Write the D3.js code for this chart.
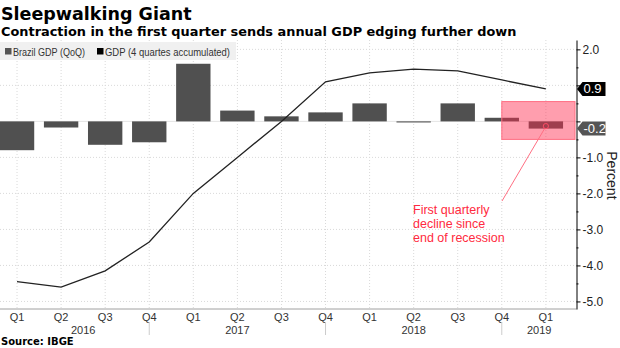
<!DOCTYPE html>
<html>
<head>
<meta charset="utf-8">
<script src="https://d3js.org/d3.v7.min.js"></script>
<style>
  html, body { margin: 0; padding: 0; background: #fff; }
  svg { display: block; font-family: "Liberation Sans", Arial, sans-serif; }
  .heading { font-family: "DejaVu Sans", Verdana, sans-serif; font-weight: bold; fill: #000; }
</style>
</head>
<body>
<div id="chart"></div>
<script>
  // quarterly figures, Q1 2016 .. Q1 2019
  const periods = ["2016 Q1", "2016 Q2", "2016 Q3", "2016 Q4",
                   "2017 Q1", "2017 Q2", "2017 Q3", "2017 Q4",
                   "2018 Q1", "2018 Q2", "2018 Q3", "2018 Q4",
                   "2019 Q1"];
  const quarterLabels = ["Q1", "Q2", "Q3", "Q4", "Q1", "Q2", "Q3", "Q4", "Q1", "Q2", "Q3", "Q4", "Q1"];
  const years = ["2016", "2017", "2018", "2019"];

  const qoq = [-0.8, -0.17, -0.65, -0.58, 1.6, 0.3, 0.14, 0.25, 0.5, -0.03, 0.5, 0.1, -0.2];
  const accumulated = [-4.45, -4.6, -4.15, -3.35, -2.0, -1.0, 0.0, 1.1, 1.35, 1.45, 1.4, 1.15, 0.9];

  const yTicks = [2, 1, 0, -1, -2, -3, -4, -5];
  const yMinorTicks = [1.5, 0.5, -0.5, -1.5, -2.5, -3.5, -4.5];

  // shaded box around the latest quarters
  const highlightFrom = "2018 Q4";
  const highlightRange = [-0.5, 0.55];
  const noteLines = ["First quarterly", "decline since", "end of recession"];

  const width = 620;
  const height = 348;
  const plotLeft = 0, plotRight = 576.5, plotTop = 40, plotBottom = 309;

  const svg = d3.select("#chart").append("svg")
      .attr("width", width)
      .attr("height", height);

  const x = d3.scaleBand()
      .domain(periods)
      .range([-5, 567.9])
      .paddingInner(0.22)
      .paddingOuter(0.11);
  const cx = p => x(p) + x.bandwidth() / 2;

  const y = d3.scaleLinear()
      .domain([-5.21, 2.26])
      .range([plotBottom, plotTop]);

  // titles
  svg.append("text")
      .attr("class", "heading")
      .attr("x", 1).attr("y", 20)
      .style("font-size", "17.5px")
      .text("Sleepwalking Giant");
  svg.append("text")
      .attr("class", "heading")
      .attr("x", 1).attr("y", 36)
      .style("font-size", "12.9px")
      .text("Contraction in the first quarter sends annual GDP edging further down");

  // grid
  const grid = svg.append("g");
  grid.selectAll(".vgrid")
      .data(periods)
      .enter().append("line")
      .attr("x1", d => cx(d)).attr("x2", d => cx(d))
      .attr("y1", plotTop).attr("y2", plotBottom)
      .attr("stroke", "#d9d9d9").attr("stroke-dasharray", "1,2");
  grid.selectAll(".hgrid")
      .data(yTicks.filter(d => d !== 0))
      .enter().append("line")
      .attr("x1", plotLeft).attr("x2", plotRight)
      .attr("y1", d => y(d)).attr("y2", d => y(d))
      .attr("stroke", "#d9d9d9").attr("stroke-dasharray", "1,2");
  grid.append("line")
      .attr("x1", plotLeft).attr("x2", plotRight)
      .attr("y1", y(0)).attr("y2", y(0))
      .attr("stroke", "#e4e4e4");

  // legend
  const legend = svg.append("g");
  legend.append("rect")
      .attr("x", 0).attr("y", 42).attr("width", 236).attr("height", 18)
      .attr("fill", "#f0f0f0");
  const legendItems = [
    { label: "Brazil GDP (QoQ)", color: "#555", x: 5, w: 72 },
    { label: "GDP (4 quartes accumulated)", color: "#000", x: 97, w: 125 }
  ];
  legendItems.forEach(item => {
    legend.append("rect")
        .attr("x", item.x).attr("y", 48).attr("width", 6.5).attr("height", 6.5)
        .attr("fill", item.color);
    legend.append("text")
        .attr("x", item.x + 8).attr("y", 55.5)
        .attr("textLength", item.w)
        .attr("lengthAdjust", "spacingAndGlyphs")
        .style("font-size", "11.5px").style("fill", "#333")
        .text(item.label);
  });

  // quarterly bars
  svg.selectAll(".bar")
      .data(periods)
      .enter().append("rect")
      .attr("x", d => x(d))
      .attr("width", x.bandwidth())
      .attr("y", (d, i) => y(Math.max(0, qoq[i])))
      .attr("height", (d, i) => Math.abs(y(qoq[i]) - y(0)))
      .attr("fill", "#505050");

  // 4-quarter accumulated line
  const line = d3.line()
      .x((d, i) => cx(periods[i]))
      .y(d => y(d));
  svg.append("path")
      .datum(accumulated)
      .attr("d", line)
      .attr("fill", "none")
      .attr("stroke", "#222")
      .attr("stroke-width", 1.3);

  // highlight box
  svg.append("rect")
      .attr("x", cx(highlightFrom))
      .attr("width", plotRight - 1.5 - cx(highlightFrom))
      .attr("y", y(highlightRange[1]))
      .attr("height", y(highlightRange[0]) - y(highlightRange[1]))
      .attr("fill", "rgb(255,40,75)")
      .attr("fill-opacity", 0.45)
      .attr("stroke", "rgb(255,110,130)")
      .attr("stroke-width", 1);

  // x axis
  svg.append("line")
      .attr("x1", plotLeft).attr("x2", plotRight)
      .attr("y1", plotBottom).attr("y2", plotBottom)
      .attr("stroke", "#a0a0a0");
  svg.selectAll(".qlabel")
      .data(periods)
      .enter().append("text")
      .attr("x", d => cx(d)).attr("y", 321)
      .attr("text-anchor", "middle")
      .style("font-size", "11px").style("fill", "#333")
      .text((d, i) => quarterLabels[i]);

  const q4s = periods.filter(p => p.endsWith("Q4"));
  svg.selectAll(".divider")
      .data(q4s)
      .enter().append("line")
      .attr("x1", d => cx(d)).attr("x2", d => cx(d))
      .attr("y1", 322).attr("y2", 335)
      .attr("stroke", "#ccc");

  svg.selectAll(".ylabel")
      .data(years)
      .enter().append("text")
      .attr("x", (d, i) => {
        const left = i === 0 ? cx(d + " Q1") : cx(years[i - 1] + " Q4");
        const right = periods.includes(d + " Q4") ? cx(d + " Q4") : plotRight;
        return (left + right) / 2;
      })
      .attr("y", 334)
      .attr("text-anchor", "middle")
      .style("font-size", "11px").style("fill", "#333")
      .text(d => d);

  // last-value tags sit on the axis and cover the tick labels beneath them
  const tags = [
    { value: accumulated[accumulated.length - 1], color: "#000" },
    { value: qoq[qoq.length - 1], color: "#555" }
  ];
  const covered = v => tags.some(t => Math.abs(y(t.value) - y(v)) < 12);

  // right value axis
  const axis = svg.append("g")
      .attr("transform", `translate(${plotRight},0)`)
      .call(d3.axisRight(y).tickValues(yTicks).tickSize(4).tickSizeOuter(0).tickPadding(2)
          .tickFormat(d => covered(d) ? "" : d.toFixed(1)));
  axis.select(".domain").attr("stroke", "#000");
  axis.selectAll(".tick line").attr("stroke", "#000");
  axis.selectAll("text")
      .style("font-size", "12px").style("fill", "#222")
      .style("font-family", "'Liberation Sans', Arial, sans-serif");
  svg.append("g")
      .attr("transform", `translate(${plotRight},0)`)
      .call(d3.axisRight(y).tickValues(yMinorTicks).tickSize(2).tickFormat(""))
      .call(g => g.select(".domain").remove())
      .selectAll("line").attr("stroke", "#000");

  svg.append("text")
      .attr("transform", `translate(607,${y(-1.5)}) rotate(90)`)
      .attr("text-anchor", "middle")
      .style("font-size", "14px").style("fill", "#222")
      .text("Percent");

  tags.forEach(t => {
    const ty = y(t.value);
    const g = svg.append("g").attr("transform", `translate(${plotRight},${ty})`);
    g.append("path")
        .attr("d", "M0.5,0 L6,-7 L29,-7 L29,7 L6,7 Z")
        .attr("fill", t.color);
    g.append("text")
        .attr("x", 7).attr("y", 4.5)
        .style("font-size", "13px").style("fill", "#fff")
        .text(t.value.toFixed(1));
  });

  // annotation
  const last = periods[periods.length - 1];
  const dotX = cx(last), dotY = y(qoq[qoq.length - 1]) - 2.5;
  svg.append("line")
      .attr("x1", dotX - 1.2).attr("y1", dotY + 2.4)
      .attr("x2", 502).attr("y2", 201)
      .attr("stroke", "#ff6f82").attr("stroke-width", 1);
  svg.append("circle")
      .attr("cx", dotX).attr("cy", dotY).attr("r", 2.6)
      .attr("fill", "none").attr("stroke", "#ff4d66").attr("stroke-width", 1);
  svg.selectAll(".note")
      .data(noteLines)
      .enter().append("text")
      .attr("x", 413).attr("y", (d, i) => 214 + i * 14)
      .style("font-size", "12.5px").style("fill", "#ff2a40")
      .text(d => d);

  // source
  svg.append("text")
      .attr("class", "heading")
      .attr("x", 1).attr("y", 345)
      .style("font-size", "10px")
      .text("Source: IBGE");
</script>
</body>
</html>
